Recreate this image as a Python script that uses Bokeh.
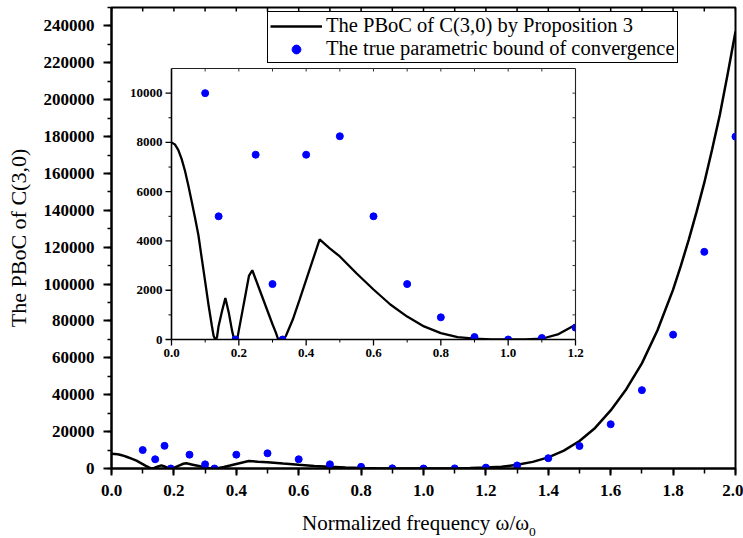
import numpy as np
from bokeh.plotting import figure
from bokeh.layouts import column
from bokeh.models import (Range1d, FixedTicker, BasicTickFormatter, PrintfTickFormatter,
                          Legend, LegendItem, Div)
from bokeh.core.properties import value
from bokeh.embed import file_html
from bokeh.resources import INLINE

# ---------------- data ----------------
curve_x = [0.00, 0.01, 0.02, 0.03, 0.04, 0.05, 0.06, 0.07, 0.08, 0.09, 0.10,
           0.11, 0.12, 0.125, 0.13, 0.135, 0.14, 0.15, 0.16, 0.17, 0.18, 0.185,
           0.19, 0.195, 0.20, 0.21, 0.22, 0.23, 0.24, 0.26, 0.28, 0.30, 0.31,
           0.317, 0.325, 0.332, 0.34, 0.36, 0.38, 0.40, 0.42, 0.44, 0.47, 0.50,
           0.55, 0.60, 0.65, 0.70, 0.75, 0.80, 0.85, 0.90, 0.95, 1.00, 1.05,
           1.10, 1.15, 1.20, 1.25, 1.30, 1.35, 1.40, 1.45, 1.50, 1.55, 1.60,
           1.65, 1.70, 1.75, 1.80, 1.825, 1.85, 1.875, 1.90, 1.925, 1.95, 1.975,
           2.00]
curve_y = [8000, 7920, 7700, 7330, 6850, 6250, 5600, 4930, 4230, 3280, 2350,
           1400, 550, 150, 0, 80, 550, 1150, 1680, 1100, 350, 60,
           0, 0, 370, 1100, 1840, 2580, 2810, 2080, 1350, 620, 280,
           0, 0, 0, 150, 800, 1600, 2420, 3240, 4060, 3700, 3370,
           2680, 2030, 1420, 930, 530, 260, 100, 35, 5, 0, 0,
           30, 220, 600, 1000, 2000, 3600, 6050, 9700, 14900, 22000, 31500,
           43000, 57000, 75000, 97000, 110000, 124000, 139000, 155000, 173000, 192000, 214000,
           237000]

true_x = [0.10, 0.14, 0.17, 0.19, 0.25, 0.30, 0.33, 0.40, 0.50, 0.60, 0.70,
          0.80, 0.90, 1.00, 1.10, 1.20, 1.30, 1.40, 1.50, 1.60, 1.70, 1.80,
          1.90, 2.00]
true_y = [10000, 5000, 12300, 0, 7500, 2250, 0, 7500, 8250, 5000, 2250,
          900, 100, 0, 60, 480, 1650, 5600, 12200, 24000, 42500, 72600,
          117500, 180000]

x_ticks = [0.0, 0.2, 0.4, 0.6, 0.8, 1.0, 1.2, 1.4, 1.6, 1.8, 2.0]
y_ticks = [0, 20000, 40000, 60000, 80000, 100000, 120000, 140000, 160000,
           180000, 200000, 220000, 240000]
inset_x_ticks = [0.0, 0.2, 0.4, 0.6, 0.8, 1.0, 1.2]
inset_x_labels = ["0.0", "0.2", "0.4", "0.6", "0.8", "1.0", "1.2"]
inset_y_ticks = [0, 2000, 4000, 6000, 8000, 10000]
inset_y_labels = ["0", "2000", "4000", "6000", "8000", "10000"]

x_label = "Normalized frequency \u03c9/\u03c9"
x_label_sub = "0"
y_label = "The PBoC of C(3,0)"
legend_labels = ["The PBoC of C(3,0) by Proposition 3",
                 "The true parametric bound of convergence"]

# ---------------- layout constants ----------------
W, H = 743, 538
PH = 505                                    # figure height, the label div sits below
FL, FR, FT, FB = 111, 735, 7, 468          # main frame (px)
X0, X1 = 0.0, 2.0
Y0, Y1 = 0.0, 250000.0
IL, IR, IT, IB = 171, 575, 68, 339         # inset frame (px)
IX0, IX1 = 0.0, 1.2
IY0, IY1 = 0.0, 11000.0

FONT = "Liberation Serif"
BLUE = "#0000ff"

# inset ranges mapped onto the full main frame
isx = (IR - IL) / (IX1 - IX0)   # px per unit
isy = (IB - IT) / (IY1 - IY0)
ix_start = IX0 - (IL - FL) / isx
ix_end = IX1 + (FR - IR) / isx
iy_start = IY0 - (FB - IB) / isy
iy_end = IY1 + (IT - FT) / isy
msy = (FB - FT) / (Y1 - Y0)

p = figure(width=W, height=PH, x_range=Range1d(X0, X1), y_range=Range1d(Y0, Y1),
           output_backend="svg", toolbar_location=None,
           min_border_left=FL, min_border_right=W - FR,
           min_border_top=FT, min_border_bottom=PH - FB)
p.grid.visible = False
p.outline_line_color = "black"
p.outline_line_width = 2
p.outline_line_alpha = 1.0
p.background_fill_color = "white"
p.border_fill_color = "white"

x_minor = [round(0.1 * i, 1) for i in range(21)]
y_minor = [10000 * i for i in range(26)]

xa = p.xaxis[0]
xa.ticker = FixedTicker(ticks=x_ticks, minor_ticks=x_minor)
xa.formatter = PrintfTickFormatter(format="%.1f")
ya = p.yaxis[0]
ya.ticker = FixedTicker(ticks=y_ticks, minor_ticks=y_minor)
ya.formatter = BasicTickFormatter(use_scientific=False)
for ax in (xa, ya):
    ax.axis_line_width = 2
    ax.axis_line_color = "black"
    ax.major_tick_line_width = 2
    ax.minor_tick_line_width = 1.5
    ax.major_tick_line_color = "black"
    ax.minor_tick_line_color = "black"
    ax.major_tick_in = 0
    ax.minor_tick_in = 0
    ax.major_label_text_font = FONT
    ax.major_label_text_font_style = "bold"
    ax.major_label_text_font_size = "17px"
    ax.major_label_text_color = "black"
xa.major_tick_out = 7
xa.minor_tick_out = 5
xa.major_label_standoff = 9
ya.major_tick_out = 8
ya.minor_tick_out = 4
ya.major_label_standoff = 9
ya.axis_label = y_label
ya.axis_label_text_font = FONT
ya.axis_label_text_font_style = "normal"
ya.axis_label_text_font_size = "22px"
ya.axis_label_text_color = "black"
ya.axis_label_standoff = 10

# ---------------- main glyphs ----------------
line_r = p.line(curve_x, curve_y, line_color="black", line_width=2.5)
pts_r = p.scatter(true_x, true_y, marker="circle", size=7, fill_color=BLUE,
                  line_color=BLUE)

# top frame ticks (inward, every 0.1)
p.segment(x0=x_minor, y0=[Y1] * len(x_minor), x1=x_minor,
          y1=[Y1 - 4 / msy] * len(x_minor), line_color="black", line_width=1.5)

# ---------------- inset ----------------
p.extra_x_ranges = {"ix": Range1d(ix_start, ix_end)}
p.extra_y_ranges = {"iy": Range1d(iy_start, iy_end)}
kw = dict(x_range_name="ix", y_range_name="iy")

icx = [x for x in curve_x if x <= IX1]
icy = [y for x, y in zip(curve_x, curve_y) if x <= IX1]
itx = [x for x, y in zip(true_x, true_y) if x <= IX1 and y <= IY1]
ity = [y for x, y in zip(true_x, true_y) if x <= IX1 and y <= IY1]

p.line(icx, icy, line_color="black", line_width=2.3, **kw)
p.scatter(itx, ity, marker="circle", size=7, fill_color=BLUE, line_color=BLUE, **kw)

# clip the markers at the inset frame (white masks just outside it)
px_x = 1.0 / isx
px_y = 1.0 / isy
p.quad(left=[IX0 - 6 * px_x, IX1], right=[IX1 + 8 * px_x, IX1 + 8 * px_x],
       bottom=[IY0 - 8 * px_y, IY0 - 8 * px_y], top=[IY0, IY1],
       fill_color="white", line_color=None, **kw)

# inset frame
p.segment(x0=[IX0, IX0], y0=[IY0, IY0], x1=[IX0, IX1], y1=[IY1, IY0],
          line_color="black", line_width=1.6, **kw)
p.segment(x0=[IX0, IX1], y0=[IY1, IY0], x1=[IX1, IX1], y1=[IY1, IY1],
          line_color="#222222", line_width=1.1, **kw)

# inset ticks
iy_minor = [v for v in range(1000, 11000, 2000)]
ix_minor = [round(0.1 + 0.2 * i, 1) for i in range(6)]
ix_all = [round(0.1 * i, 1) for i in range(1, 12)]
iy_all = [1000 * i for i in range(1, 11)]
p.segment(x0=[IX0] * len(inset_y_ticks), y0=inset_y_ticks,
          x1=[IX0 - 6 * px_x] * len(inset_y_ticks), y1=inset_y_ticks,
          line_color="black", line_width=1.3, **kw)
p.segment(x0=[IX0] * len(iy_minor), y0=iy_minor,
          x1=[IX0 - 3 * px_x] * len(iy_minor), y1=iy_minor,
          line_color="black", line_width=1.0, **kw)
p.segment(x0=inset_x_ticks, y0=[IY0] * len(inset_x_ticks),
          x1=inset_x_ticks, y1=[IY0 - 6 * px_y] * len(inset_x_ticks),
          line_color="black", line_width=1.3, **kw)
p.segment(x0=ix_minor, y0=[IY0] * len(ix_minor),
          x1=ix_minor, y1=[IY0 - 3 * px_y] * len(ix_minor),
          line_color="black", line_width=1.0, **kw)
p.segment(x0=ix_all, y0=[IY1] * len(ix_all),
          x1=ix_all, y1=[IY1 - 3 * px_y] * len(ix_all),
          line_color="#333333", line_width=1.0, **kw)
p.segment(x0=[IX1] * len(iy_all), y0=iy_all,
          x1=[IX1 - 3 * px_x] * len(iy_all), y1=iy_all,
          line_color="#333333", line_width=1.0, **kw)

p.text(x=[IX0] * len(inset_y_ticks), y=inset_y_ticks, text=inset_y_labels,
       x_offset=-9, text_align="right", text_baseline="middle",
       text_font=value(FONT), text_font_style="bold", text_font_size="13px",
       text_color="black", **kw)
p.text(x=inset_x_ticks, y=[IY0] * len(inset_x_ticks), text=inset_x_labels,
       y_offset=9, text_align="center", text_baseline="top",
       text_font=value(FONT), text_font_style="bold", text_font_size="13px",
       text_color="black", **kw)

# ---------------- legend ----------------
legend = Legend(items=[LegendItem(label=legend_labels[0], renderers=[line_r]),
                       LegendItem(label=legend_labels[1], renderers=[pts_r])],
                location=(267 - FL, FB - 63))
legend.label_text_font = FONT
legend.label_text_font_size = "20.5px"
legend.label_text_color = "black"
legend.border_line_color = "black"
legend.border_line_width = 1
legend.border_line_alpha = 1.0
legend.background_fill_alpha = 1.0
legend.padding = 2
legend.spacing = 0
legend.margin = 0
legend.glyph_width = 52
legend.glyph_height = 22
legend.label_height = 22
legend.label_standoff = 4
p.add_layout(legend)

# ---------------- x axis label (HTML, with a real subscript) ----------------
label_html = (
    '<div style="font-family:\'Liberation Serif\',serif;font-size:21px;'
    'line-height:21px;color:black;white-space:nowrap;'
    'padding-left:%dpx;padding-top:8px;">%s'
    '<span style="font-size:13.5px;position:relative;top:6px;">%s</span></div>'
    % (302, x_label, x_label_sub)
)
xlab = Div(text=label_html, width=W, height=H - PH, margin=0)

layout = column(p, xlab, spacing=0)
open("out.html", "w").write(file_html(layout, INLINE))
